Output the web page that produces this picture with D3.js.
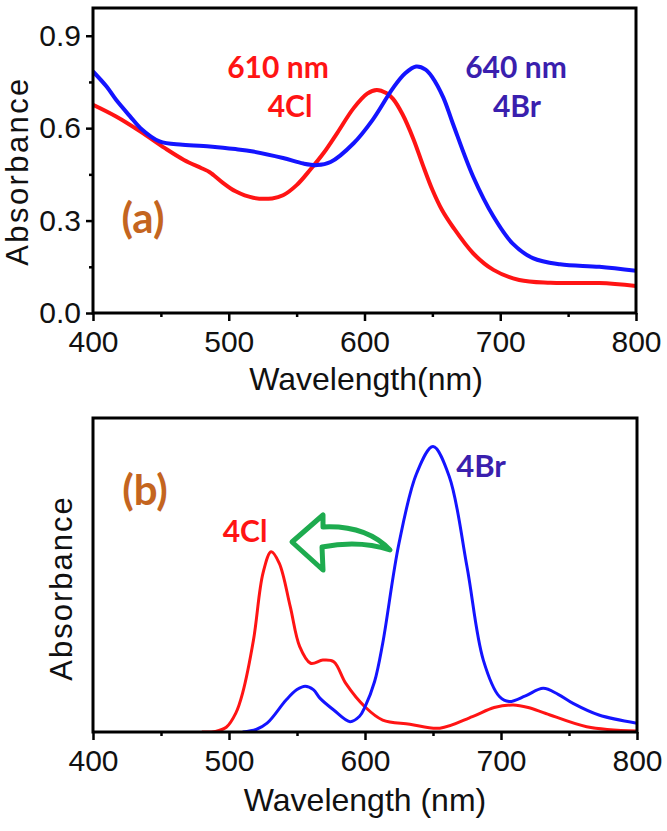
<!DOCTYPE html>
<html><head><meta charset="utf-8">
<script src="https://cdn.jsdelivr.net/npm/d3@7"></script>
<style>
html,body{margin:0;padding:0;background:#fff;}
svg{display:block;}
</style></head>
<body>
<svg id="chart" width="667" height="831"></svg>
<script>
// ---------- data (panel a: measured spectra) ----------
const wlA_Cl = [400,417,435,453,467,480,486,495,505,518,532,540,550,560,570,580,592,602,609,616,621,628,636,643,650,657,665,680,695,714,737,773,800];
const absA_Cl = [0.676,0.638,0.589,0.535,0.497,0.470,0.457,0.425,0.395,0.374,0.372,0.382,0.415,0.465,0.520,0.585,0.665,0.712,0.724,0.714,0.695,0.645,0.565,0.480,0.400,0.335,0.280,0.194,0.140,0.107,0.098,0.097,0.088];
const wlA_Br = [400,410,417,427,435,449,466,488,505,518,540,555,565,575,592,606,621,630,638,645,650,658,665,680,695,709,724,744,773,800];
const absA_Br = [0.784,0.735,0.692,0.640,0.600,0.557,0.546,0.540,0.532,0.524,0.503,0.485,0.480,0.490,0.551,0.627,0.730,0.778,0.800,0.790,0.765,0.700,0.616,0.443,0.313,0.226,0.178,0.158,0.150,0.137];
// ---------- data (panel b: computed spectra, arbitrary units) ----------
const wlB_Cl = [480,490,498,505,510,518,525,531,537,545,552,560,569,577,586,600,613,633,655,679,695,709,720,733,763,800];
const absB_Cl = [0,0.002,0.015,0.06,0.124,0.293,0.506,0.574,0.537,0.40,0.272,0.219,0.229,0.224,0.154,0.080,0.038,0.025,0.012,0.049,0.078,0.086,0.078,0.059,0.017,0.003];
const wlB_Br = [510,520,528,542,550,556,562,567,577,589,596,600,607,613,625,638,650,662,675,687,699,706,718,731,742,753,772,800];
const absB_Br = [0,0.008,0.028,0.102,0.135,0.146,0.135,0.107,0.070,0.033,0.05,0.08,0.16,0.282,0.601,0.824,0.909,0.813,0.526,0.229,0.112,0.097,0.115,0.139,0.120,0.091,0.054,0.028];
// ---------- ticks ----------
const xTicks = [400,500,600,700,800];
const xMinor = [450,550,650,750];
const yTicksA = [0.0,0.3,0.6,0.9];
const yMinorA = [0.15,0.45,0.75];

const RED = "#ff1414", BLUE = "#1414ff", INDIGO = "#3a1fae", ORANGE = "#c4651f", GREEN = "#1eab4f";
const AX_FONT = "'Liberation Sans', Arial, sans-serif";
const LBL_FONT = "Lato, 'Open Sans', sans-serif";

const svg = d3.select("#chart");

function panel(box, yDomain, series, lw, showY){
  const x = d3.scaleLinear().domain([400,800]).range([box.l, box.r]);
  const y = d3.scaleLinear().domain(yDomain).range([box.b, box.t]);
  const g = svg.append("g");
  const line = d3.line().x(d=>x(d[0])).y(d=>y(d[1])).curve(d3.curveCatmullRom.alpha(0.5));
  const clipId = "clip"+box.t;
  svg.append("clipPath").attr("id",clipId).append("rect")
    .attr("x",box.l).attr("y",box.t).attr("width",box.r-box.l).attr("height",box.b-box.t);
  series.forEach(s=>{
    g.append("path").datum(s.wl.map((w,i)=>[w,s.v[i]]))
      .attr("d",line).attr("fill","none").attr("stroke",s.color)
      .attr("stroke-width",lw).attr("stroke-linejoin","round").attr("clip-path",`url(#${clipId})`);
  });
  g.append("rect").attr("x",box.l).attr("y",box.t).attr("width",box.r-box.l).attr("height",box.b-box.t)
    .attr("fill","none").attr("stroke","#000").attr("stroke-width",3);
  const xa = g.append("g").attr("transform",`translate(0,${box.b})`)
    .call(d3.axisBottom(x).tickValues(xTicks).tickSize(8).tickPadding(10).tickFormat(d3.format("d")));
  xa.select(".domain").remove();
  xa.selectAll("line").attr("stroke-width",2.5);
  xa.selectAll("text").attr("font-family",AX_FONT).attr("font-size",30).attr("fill","#111");
  const xm = g.append("g").attr("transform",`translate(0,${box.b})`)
    .call(d3.axisBottom(x).tickValues(xMinor).tickSize(4).tickFormat(""));
  xm.select(".domain").remove();
  xm.selectAll("line").attr("stroke-width",2.5);
  if(showY){
    const ya = g.append("g").attr("transform",`translate(${box.l},0)`)
      .call(d3.axisLeft(y).tickValues(yTicksA).tickSize(7).tickPadding(5).tickFormat(d3.format(".1f")));
    ya.select(".domain").remove();
    ya.selectAll("line").attr("stroke-width",2.5);
    ya.selectAll("text").attr("font-family",AX_FONT).attr("font-size",30).attr("fill","#111");
    const ym = g.append("g").attr("transform",`translate(${box.l},0)`)
      .call(d3.axisLeft(y).tickValues(yMinorA).tickSize(4).tickFormat(""));
    ym.select(".domain").remove();
    ym.selectAll("line").attr("stroke-width",2.5);
  }
  return {x,y,g};
}

// Panel (a)
panel({l:93,r:636,t:8,b:313},[0,0.99],[
  {wl:wlA_Cl,v:absA_Cl,color:RED},
  {wl:wlA_Br,v:absA_Br,color:BLUE}
],4,true);
svg.append("text").attr("transform","translate(28,171) rotate(-90)").attr("text-anchor","middle")
  .attr("font-family",AX_FONT).attr("font-size",31).attr("letter-spacing",2.4).attr("fill","#111").text("Absorbance");
svg.append("text").attr("x",366).attr("y",390).attr("text-anchor","middle")
  .attr("font-family",AX_FONT).attr("font-size",32).attr("fill","#111").text("Wavelength(nm)");
const t = (x,y,s,c,fs)=>svg.append("text").attr("x",x).attr("y",y).attr("text-anchor","middle")
  .attr("font-family",LBL_FONT).attr("font-weight","bold").attr("font-size",fs).attr("fill",c).text(s);
t(278,78,"610 nm",RED,30);
t(290,117,"4Cl",RED,30);
t(516,78,"640 nm",INDIGO,30);
t(517,117,"4Br",INDIGO,30);
t(143,233,"(a)",ORANGE,42);

// Panel (b)
panel({l:93,r:637,t:418,b:732},[0,1],[
  {wl:wlB_Cl,v:absB_Cl,color:RED},
  {wl:wlB_Br,v:absB_Br,color:BLUE}
],3,false);
svg.append("text").attr("transform","translate(72,588) rotate(-90)").attr("text-anchor","middle")
  .attr("font-family",AX_FONT).attr("font-size",31).attr("letter-spacing",2.0).attr("fill","#111").text("Absorbance");
svg.append("text").attr("x",365).attr("y",811).attr("text-anchor","middle")
  .attr("font-family",AX_FONT).attr("font-size",32).attr("fill","#111").text("Wavelength (nm)");
t(145,505,"(b)",ORANGE,42);
t(245,542,"4Cl",RED,30);
t(481,477,"4Br",INDIGO,31);

// green curved hollow arrow
svg.append("path")
  .attr("d","M292,542 L323,515 L323,527 Q366,525 390,550 Q360,540 322,547 L323,570 Z")
  .attr("fill","none").attr("stroke",GREEN).attr("stroke-width",5).attr("stroke-linejoin","round");
</script>
</body></html>
